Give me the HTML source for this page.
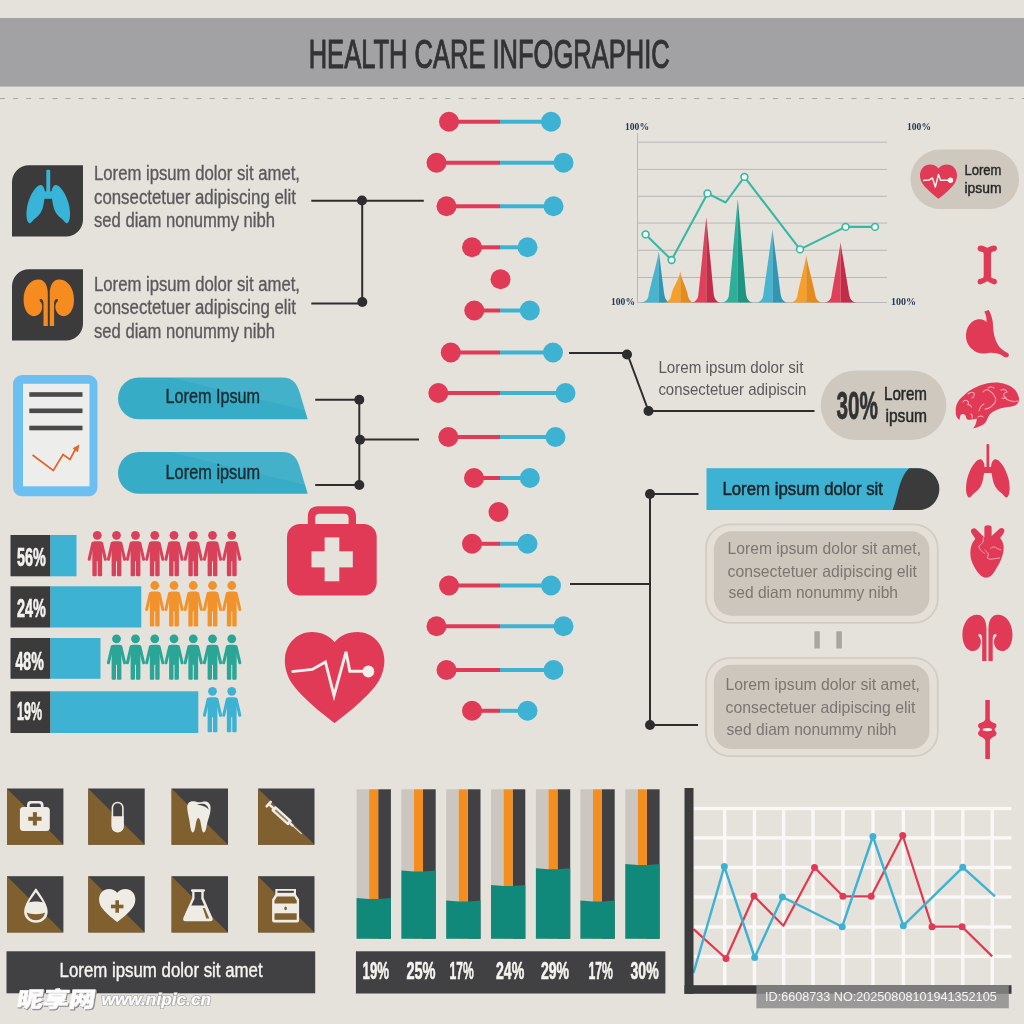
<!DOCTYPE html>
<html lang="en"><head><meta charset="utf-8"><title>Health Care Infographic</title>
<style>
html,body{margin:0;padding:0;background:#e5e2dc;}
body{width:1024px;height:1024px;overflow:hidden;}
svg{display:block;font-family:"Liberation Sans","Noto Sans CJK SC",sans-serif;}
</style></head><body>
<svg width="1024" height="1024" viewBox="0 0 1024 1024">
<rect width="1024" height="1024" fill="#e5e2dc"/>
<rect x="0" y="18" width="1024" height="68.6" fill="#a2a2a4"/>
<text x="308.7" y="67.7" font-size="41" fill="#333336" font-weight="normal" text-anchor="start" textLength="361" lengthAdjust="spacingAndGlyphs" stroke="#333336" stroke-width="1.1">HEALTH CARE INFOGRAPHIC</text>
<line x1="0" y1="98.5" x2="1024" y2="98.5" stroke="#a9a6a2" stroke-width="1" stroke-dasharray="5 8.1"/>
<path d="M29,165.3 H83 V219.5 A17,17 0 0 1 66,236.5 H12 V182.3 A17,17 0 0 1 29,165.3 Z" fill="#3c3b3c"/>
<path d="M29,269.3 H83 V323.5 A17,17 0 0 1 66,340.5 H12 V286.3 A17,17 0 0 1 29,269.3 Z" fill="#3c3b3c"/>
<g transform="translate(26,169.8) scale(1.0)" fill="#38b4d8"><rect x="20.3" y="0" width="3.9" height="28" rx="1.2"/><rect x="17" y="21.5" width="10.5" height="7.5"/><path d="M15,15.3 C11,14.5 4.5,24 1.8,34 C-0.5,43 0.3,52 3.2,53.5 C5,54 6.5,50.5 9.5,48.5 C13.5,45.5 16.5,41 17.5,35 C18.3,30 19,27 19,24 C19,19 17.5,16 15,15.3 Z"/><path d="M29.5,15.3 C33.5,14.5 40,24 42.7,34 C45,43 44.2,52 41.3,53.5 C39.5,54 38,50.5 35,48.5 C31,45.5 28,41 27,35 C26.2,30 25.5,27 25.5,24 C25.5,19 27,16 29.5,15.3 Z"/></g>
<g transform="translate(23.6,279.6) scale(1.0)" fill="#f68b1f"><path d="M14,0 C21,-0.5 24.2,6 24.2,14 L24.2,46.5 L19.9,46.5 L19.9,24 C19.9,21 18.8,19.3 17.2,19.3 C15.8,19.3 15.5,21 17,22.5 C19,24.5 19,29 17.5,32 C15.5,36 11,37.5 7.5,36 C2.5,34 0,27.5 0,20 C0,9 6,0.5 14,0 Z"/><path d="M36.4,0 C29.4,-0.5 26.2,6 26.2,14 L26.2,46.5 L30.5,46.5 L30.5,24 C30.5,21 31.6,19.3 33.2,19.3 C34.6,19.3 34.9,21 33.4,22.5 C31.4,24.5 31.4,29 32.9,32 C34.9,36 39.4,37.5 42.9,36 C47.9,34 50.4,27.5 50.4,20 C50.4,9 44.4,0.5 36.4,0 Z"/></g>
<text x="94" y="180" font-size="20" fill="#5a5a5c" font-weight="normal" text-anchor="start" textLength="206" lengthAdjust="spacingAndGlyphs" stroke="#5a5a5c" stroke-width="0.35">Lorem ipsum dolor sit amet,</text>
<text x="94" y="203.5" font-size="20" fill="#5a5a5c" font-weight="normal" text-anchor="start" textLength="202" lengthAdjust="spacingAndGlyphs" stroke="#5a5a5c" stroke-width="0.35">consectetuer adipiscing elit</text>
<text x="94" y="226.8" font-size="20" fill="#5a5a5c" font-weight="normal" text-anchor="start" textLength="181" lengthAdjust="spacingAndGlyphs" stroke="#5a5a5c" stroke-width="0.35">sed diam nonummy nibh</text>
<text x="94" y="290.5" font-size="20" fill="#5a5a5c" font-weight="normal" text-anchor="start" textLength="206" lengthAdjust="spacingAndGlyphs" stroke="#5a5a5c" stroke-width="0.35">Lorem ipsum dolor sit amet,</text>
<text x="94" y="314" font-size="20" fill="#5a5a5c" font-weight="normal" text-anchor="start" textLength="202" lengthAdjust="spacingAndGlyphs" stroke="#5a5a5c" stroke-width="0.35">consectetuer adipiscing elit</text>
<text x="94" y="337.5" font-size="20" fill="#5a5a5c" font-weight="normal" text-anchor="start" textLength="181" lengthAdjust="spacingAndGlyphs" stroke="#5a5a5c" stroke-width="0.35">sed diam nonummy nibh</text>
<line x1="311.3" y1="200.8" x2="423.8" y2="200.8" stroke="#2e2d2e" stroke-width="2"/>
<line x1="362.2" y1="200.5" x2="362.2" y2="303" stroke="#2e2d2e" stroke-width="2"/>
<line x1="311.3" y1="303.5" x2="362.2" y2="303.5" stroke="#2e2d2e" stroke-width="2"/>
<circle cx="362" cy="200.5" r="5" fill="#2e2d2e"/>
<circle cx="362.3" cy="302" r="5" fill="#2e2d2e"/>
<line x1="449" y1="121.8" x2="500" y2="121.8" stroke="#e03a57" stroke-width="4"/>
<line x1="500" y1="121.8" x2="551" y2="121.8" stroke="#3eb2d2" stroke-width="4"/>
<circle cx="449" cy="121.8" r="10" fill="#e03a57"/><circle cx="551" cy="121.8" r="10" fill="#3eb2d2"/>
<line x1="436.5" y1="162.8" x2="500" y2="162.8" stroke="#e03a57" stroke-width="4"/>
<line x1="500" y1="162.8" x2="563.5" y2="162.8" stroke="#3eb2d2" stroke-width="4"/>
<circle cx="436.5" cy="162.8" r="10" fill="#e03a57"/><circle cx="563.5" cy="162.8" r="10" fill="#3eb2d2"/>
<line x1="446.5" y1="206.3" x2="500" y2="206.3" stroke="#e03a57" stroke-width="4"/>
<line x1="500" y1="206.3" x2="553.5" y2="206.3" stroke="#3eb2d2" stroke-width="4"/>
<circle cx="446.5" cy="206.3" r="10" fill="#e03a57"/><circle cx="553.5" cy="206.3" r="10" fill="#3eb2d2"/>
<line x1="472" y1="247.3" x2="500" y2="247.3" stroke="#e03a57" stroke-width="4"/>
<line x1="500" y1="247.3" x2="527.5" y2="247.3" stroke="#3eb2d2" stroke-width="4"/>
<circle cx="472" cy="247.3" r="10" fill="#e03a57"/><circle cx="527.5" cy="247.3" r="10" fill="#3eb2d2"/>
<circle cx="500.5" cy="279.3" r="10" fill="#e03a57"/>
<line x1="474.3" y1="310.5" x2="500" y2="310.5" stroke="#e03a57" stroke-width="4"/>
<line x1="500" y1="310.5" x2="529.8" y2="310.5" stroke="#3eb2d2" stroke-width="4"/>
<circle cx="474.3" cy="310.5" r="10" fill="#e03a57"/><circle cx="529.8" cy="310.5" r="10" fill="#3eb2d2"/>
<line x1="450.8" y1="352.5" x2="500" y2="352.5" stroke="#e03a57" stroke-width="4"/>
<line x1="500" y1="352.5" x2="553" y2="352.5" stroke="#3eb2d2" stroke-width="4"/>
<circle cx="450.8" cy="352.5" r="10" fill="#e03a57"/><circle cx="553" cy="352.5" r="10" fill="#3eb2d2"/>
<line x1="438.3" y1="393" x2="500" y2="393" stroke="#e03a57" stroke-width="4"/>
<line x1="500" y1="393" x2="565.5" y2="393" stroke="#3eb2d2" stroke-width="4"/>
<circle cx="438.3" cy="393" r="10" fill="#e03a57"/><circle cx="565.5" cy="393" r="10" fill="#3eb2d2"/>
<line x1="448.3" y1="437" x2="500" y2="437" stroke="#e03a57" stroke-width="4"/>
<line x1="500" y1="437" x2="555.5" y2="437" stroke="#3eb2d2" stroke-width="4"/>
<circle cx="448.3" cy="437" r="10" fill="#e03a57"/><circle cx="555.5" cy="437" r="10" fill="#3eb2d2"/>
<line x1="474" y1="478" x2="500" y2="478" stroke="#e03a57" stroke-width="4"/>
<line x1="500" y1="478" x2="529.8" y2="478" stroke="#3eb2d2" stroke-width="4"/>
<circle cx="474" cy="478" r="10" fill="#e03a57"/><circle cx="529.8" cy="478" r="10" fill="#3eb2d2"/>
<circle cx="498.5" cy="512" r="10" fill="#e03a57"/>
<line x1="472" y1="543.8" x2="500" y2="543.8" stroke="#e03a57" stroke-width="4"/>
<line x1="500" y1="543.8" x2="527.5" y2="543.8" stroke="#3eb2d2" stroke-width="4"/>
<circle cx="472" cy="543.8" r="10" fill="#e03a57"/><circle cx="527.5" cy="543.8" r="10" fill="#3eb2d2"/>
<line x1="449" y1="585.5" x2="500" y2="585.5" stroke="#e03a57" stroke-width="4"/>
<line x1="500" y1="585.5" x2="551" y2="585.5" stroke="#3eb2d2" stroke-width="4"/>
<circle cx="449" cy="585.5" r="10" fill="#e03a57"/><circle cx="551" cy="585.5" r="10" fill="#3eb2d2"/>
<line x1="436.5" y1="626.3" x2="500" y2="626.3" stroke="#e03a57" stroke-width="4"/>
<line x1="500" y1="626.3" x2="563.5" y2="626.3" stroke="#3eb2d2" stroke-width="4"/>
<circle cx="436.5" cy="626.3" r="10" fill="#e03a57"/><circle cx="563.5" cy="626.3" r="10" fill="#3eb2d2"/>
<line x1="446.5" y1="670" x2="500" y2="670" stroke="#e03a57" stroke-width="4"/>
<line x1="500" y1="670" x2="553.5" y2="670" stroke="#3eb2d2" stroke-width="4"/>
<circle cx="446.5" cy="670" r="10" fill="#e03a57"/><circle cx="553.5" cy="670" r="10" fill="#3eb2d2"/>
<line x1="472" y1="710.8" x2="500" y2="710.8" stroke="#e03a57" stroke-width="4"/>
<line x1="500" y1="710.8" x2="527.5" y2="710.8" stroke="#3eb2d2" stroke-width="4"/>
<circle cx="472" cy="710.8" r="10" fill="#e03a57"/><circle cx="527.5" cy="710.8" r="10" fill="#3eb2d2"/>
<line x1="637.5" y1="142.2" x2="887" y2="142.2" stroke="#b9b8b8" stroke-width="1"/>
<line x1="637.5" y1="169.4" x2="887" y2="169.4" stroke="#b9b8b8" stroke-width="1"/>
<line x1="637.5" y1="196.3" x2="887" y2="196.3" stroke="#b9b8b8" stroke-width="1"/>
<line x1="637.5" y1="223.1" x2="887" y2="223.1" stroke="#b9b8b8" stroke-width="1"/>
<line x1="637.5" y1="250.3" x2="887" y2="250.3" stroke="#b9b8b8" stroke-width="1"/>
<line x1="637.5" y1="277.5" x2="887" y2="277.5" stroke="#b9b8b8" stroke-width="1"/>
<line x1="637.5" y1="302.5" x2="887" y2="302.5" stroke="#b9b8b8" stroke-width="1"/>
<line x1="637.5" y1="133" x2="637.5" y2="302.5" stroke="#b9b8b8" stroke-width="1"/>
<text x="625" y="129.7" font-size="9.5" fill="#1f3550" font-weight="bold" text-anchor="start" textLength="24" lengthAdjust="spacingAndGlyphs" font-family="Liberation Serif, serif">100%</text>
<text x="907" y="129.7" font-size="9.5" fill="#1f3550" font-weight="bold" text-anchor="start" textLength="24" lengthAdjust="spacingAndGlyphs" font-family="Liberation Serif, serif">100%</text>
<text x="611" y="304.7" font-size="9.5" fill="#1f3550" font-weight="bold" text-anchor="start" textLength="24" lengthAdjust="spacingAndGlyphs" font-family="Liberation Serif, serif">100%</text>
<text x="891" y="304.7" font-size="9.5" fill="#1f3550" font-weight="bold" text-anchor="start" textLength="25" lengthAdjust="spacingAndGlyphs" font-family="Liberation Serif, serif">100%</text>
<path d="M658.8,251.5 C657.8,259.5 649.608,288.5 648.608,295.5 C647.608,300.5 644.608,302.0 640.6,302.5 L658.8,302.5 Z" fill="#47b4d0"/>
<path d="M658.8,251.5 C659.8,259.5 663.512,288.5 664.512,295.5 C665.512,300.5 668.512,302.0 669,302.5 L658.8,302.5 Z" fill="#2f96b4"/>
<path d="M680.3,271.3 C679.3,279.3 672.172,288.5 671.172,295.5 C670.172,300.5 667.172,302.0 664,302.5 L680.3,302.5 Z" fill="#f6a02c"/>
<path d="M680.3,271.3 C681.3,279.3 686.8599999999999,288.5 687.8599999999999,295.5 C688.8599999999999,300.5 691.8599999999999,302.0 693.8,302.5 L680.3,302.5 Z" fill="#e58a1c"/>
<path d="M706.3,217.2 C705.3,225.2 699.292,288.5 698.292,295.5 C697.292,300.5 694.292,302.0 692,302.5 L706.3,302.5 Z" fill="#e0405a"/>
<path d="M706.3,217.2 C707.3,225.2 712.972,288.5 713.972,295.5 C714.972,300.5 717.972,302.0 720,302.5 L706.3,302.5 Z" fill="#c22c48"/>
<path d="M737.8,199.4 C736.8,207.4 729.896,288.5 728.896,295.5 C727.896,300.5 724.896,302.0 721.9,302.5 L737.8,302.5 Z" fill="#2fae9a"/>
<path d="M737.8,199.4 C738.8,207.4 745.312,288.5 746.312,295.5 C747.312,300.5 750.312,302.0 753,302.5 L737.8,302.5 Z" fill="#1f9482"/>
<path d="M772.5,229.7 C771.5,237.7 764.26,288.5 763.26,295.5 C762.26,300.5 759.26,302.0 756,302.5 L772.5,302.5 Z" fill="#47b4d0"/>
<path d="M772.5,229.7 C773.5,237.7 779.9,288.5 780.9,295.5 C781.9,300.5 784.9,302.0 787.5,302.5 L772.5,302.5 Z" fill="#2f96b4"/>
<path d="M806.3,255.3 C805.3,263.3 798.508,288.5 797.508,295.5 C796.508,300.5 793.508,302.0 790.6,302.5 L806.3,302.5 Z" fill="#f6a02c"/>
<path d="M806.3,255.3 C807.3,263.3 814.372,288.5 815.372,295.5 C816.372,300.5 819.372,302.0 822.5,302.5 L806.3,302.5 Z" fill="#e58a1c"/>
<path d="M840.6,242.2 C839.6,250.2 832.528,288.5 831.528,295.5 C830.528,300.5 827.528,302.0 824.4,302.5 L840.6,302.5 Z" fill="#e0405a"/>
<path d="M840.6,242.2 C841.6,250.2 848.3919999999999,288.5 849.3919999999999,295.5 C850.3919999999999,300.5 853.3919999999999,302.0 856.3,302.5 L840.6,302.5 Z" fill="#c22c48"/>
<polyline points="645.6,234.4 671.6,260 707.5,193.4 725.6,202.5 744.4,176.9 800,249.4 845.6,226.9 875,226.9" fill="none" stroke="#35b8a4" stroke-width="2.1" stroke-linejoin="round"/>
<circle cx="645.6" cy="234.4" r="3.4" fill="#f2f4f2" stroke="#35b8a4" stroke-width="1.6"/>
<circle cx="671.6" cy="260" r="3.4" fill="#f2f4f2" stroke="#35b8a4" stroke-width="1.6"/>
<circle cx="707.5" cy="193.4" r="3.4" fill="#f2f4f2" stroke="#35b8a4" stroke-width="1.6"/>
<circle cx="744.4" cy="176.9" r="3.4" fill="#f2f4f2" stroke="#35b8a4" stroke-width="1.6"/>
<circle cx="800" cy="249.4" r="3.4" fill="#f2f4f2" stroke="#35b8a4" stroke-width="1.6"/>
<circle cx="845.6" cy="226.9" r="3.4" fill="#f2f4f2" stroke="#35b8a4" stroke-width="1.6"/>
<circle cx="875" cy="226.9" r="3.4" fill="#f2f4f2" stroke="#35b8a4" stroke-width="1.6"/>
<rect x="910.5" y="149.5" width="108.5" height="59.5" rx="29.75" fill="#cec8be"/>
<path transform="translate(920,164.5) scale(0.37,0.3728260869565217)" d="M50,92 C45,88 18,68 6.5,51 C1.5,43 -0.5,34 0,27 C1,11 13,0 27,0 C37,0 45,4 50,10.5 C55,4 63,0 73,0 C87,0 99,11 100,27 C100.5,34 98.5,43 93.5,51 C82,68 55,88 50,92 Z" fill="#e03a57"/>
<polyline points="923,180.5 929,180 932.5,178 935.3,187 938.5,174.5 940.5,180.3 948,180.3" fill="none" stroke="#f3efe9" stroke-width="1.5" stroke-linejoin="round"/>
<circle cx="950.5" cy="180.3" r="2.7" fill="#f3efe9"/>
<text x="964.5" y="174.5" font-size="15.5" fill="#272728" font-weight="normal" text-anchor="start" textLength="37" lengthAdjust="spacingAndGlyphs" stroke="#272728" stroke-width="0.45">Lorem</text>
<text x="964.5" y="193" font-size="15.5" fill="#272728" font-weight="normal" text-anchor="start" textLength="37" lengthAdjust="spacingAndGlyphs" stroke="#272728" stroke-width="0.45">ipsum</text>
<line x1="569" y1="353" x2="627" y2="353" stroke="#2e2d2e" stroke-width="2"/>
<line x1="627" y1="353" x2="648.5" y2="411" stroke="#2e2d2e" stroke-width="2"/>
<line x1="648.5" y1="411" x2="814.5" y2="411" stroke="#2e2d2e" stroke-width="2"/>
<circle cx="627" cy="354.5" r="5" fill="#2e2d2e"/>
<circle cx="648.5" cy="411" r="5" fill="#2e2d2e"/>
<text x="658.4" y="373" font-size="17" fill="#5a5a5c" font-weight="normal" text-anchor="start" textLength="145" lengthAdjust="spacingAndGlyphs" >Lorem ipsum dolor sit</text>
<text x="658.4" y="395" font-size="17" fill="#5a5a5c" font-weight="normal" text-anchor="start" textLength="148" lengthAdjust="spacingAndGlyphs" >consectetuer adipiscin</text>
<rect x="820.8" y="370.4" width="125.5" height="69.6" rx="34.8" fill="#cec8be"/>
<text x="836.5" y="418.6" font-size="38.2" fill="#333334" font-weight="bold" text-anchor="start" textLength="41.5" lengthAdjust="spacingAndGlyphs" stroke="#333334" stroke-width="0.8">30%</text>
<text x="884" y="399.6" font-size="18.2" fill="#272728" font-weight="normal" text-anchor="start" textLength="43" lengthAdjust="spacingAndGlyphs" stroke="#272728" stroke-width="0.5">Lorem</text>
<text x="885.5" y="421.8" font-size="18.2" fill="#272728" font-weight="normal" text-anchor="start" textLength="41.5" lengthAdjust="spacingAndGlyphs" stroke="#272728" stroke-width="0.5">ipsum</text>
<rect x="706.5" y="468.2" width="215" height="41.8" fill="#3eb2d2"/>
<path d="M909.5,468.2 H918.5 A20.9,20.9 0 0 1 918.5,510 H892.5 C898,498 899,476 909.5,468.2 Z" fill="#3c3b3c"/>
<text x="722.4" y="495.3" font-size="18.8" fill="#1f2428" font-weight="normal" text-anchor="start" textLength="160.6" lengthAdjust="spacingAndGlyphs" stroke="#1f2428" stroke-width="0.55">Lorem ipsum dolor sit</text>
<line x1="650" y1="494" x2="698.5" y2="494" stroke="#2e2d2e" stroke-width="2"/>
<line x1="650" y1="494" x2="650" y2="725" stroke="#2e2d2e" stroke-width="2"/>
<line x1="650" y1="725" x2="698" y2="725" stroke="#2e2d2e" stroke-width="2"/>
<line x1="570" y1="584" x2="650" y2="584" stroke="#2e2d2e" stroke-width="2"/>
<circle cx="650" cy="494" r="5" fill="#2e2d2e"/>
<circle cx="650" cy="725" r="5" fill="#2e2d2e"/>
<rect x="706" y="524.4" width="231.8" height="98.4" rx="24" fill="#e4dfd7" stroke="#d2ccc3" stroke-width="1.8"/>
<rect x="713.8" y="531.3" width="215.6" height="84.4" rx="18" fill="#ccc6bd"/>
<rect x="706" y="657.8" width="231.8" height="98.4" rx="24" fill="#e4dfd7" stroke="#d2ccc3" stroke-width="1.8"/>
<rect x="713.8" y="664.6999999999999" width="215.6" height="84.4" rx="18" fill="#ccc6bd"/>
<text x="727.5" y="553.8" font-size="16.5" fill="#7a7672" font-weight="normal" text-anchor="start" textLength="193.5" lengthAdjust="spacingAndGlyphs" >Lorem ipsum dolor sit amet,</text>
<text x="727.5" y="576.6" font-size="16.5" fill="#7a7672" font-weight="normal" text-anchor="start" textLength="189.5" lengthAdjust="spacingAndGlyphs" >consectetuer adipiscing elit</text>
<text x="728.5" y="598.4" font-size="16.5" fill="#7a7672" font-weight="normal" text-anchor="start" textLength="169.5" lengthAdjust="spacingAndGlyphs" >sed diam nonummy nibh</text>
<text x="725.5" y="690" font-size="16.5" fill="#7a7672" font-weight="normal" text-anchor="start" textLength="194.5" lengthAdjust="spacingAndGlyphs" >Lorem ipsum dolor sit amet,</text>
<text x="725.5" y="712.5" font-size="16.5" fill="#7a7672" font-weight="normal" text-anchor="start" textLength="190" lengthAdjust="spacingAndGlyphs" >consectetuer adipiscing elit</text>
<text x="726.5" y="735" font-size="16.5" fill="#7a7672" font-weight="normal" text-anchor="start" textLength="170" lengthAdjust="spacingAndGlyphs" >sed diam nonummy nibh</text>
<rect x="814.4" y="631.3" width="5.4" height="17.2" fill="#a9a6a1"/><rect x="836.3" y="631.3" width="5.6" height="17.2" fill="#a9a6a1"/>
<path d="M983.7,254 C983.7,252 982,251.8 980,251.5 C977.5,251 976.8,248 978.5,246.3 C980.5,244.5 984,246 987.3,247.7 C990.5,246 994,244.5 996,246 C997.8,247.8 997,251 994.5,251.3 C992.5,251.7 991,252 991,254 L991,276 C991,278 992.5,278.3 994.5,278.7 C997,279 997.8,282.2 996,284 C994,285.5 990.5,283 987.3,281.3 C984,283 980.5,285.5 978.5,284 C976.8,282.2 977.5,279 980,278.7 C982,278.3 983.7,278 983.7,276 Z" fill="#e03a57"/>
<path d="M984.3,311.4 L988.8,310 C991,314 993,320 993,325 C993.2,332 994.5,339 998,345 C1000,348 1003,350.3 1008,353.3 C1009.5,354.5 1009,357 1007,357.3 C1005.5,357.5 1004.5,357.3 1003.5,356.5 C1001,354.5 999,353.8 996,353.2 C993,352.6 991,352.5 988,353 C982,354.5 976,353 972,349 C968,345.5 965.8,341 966,335 C966.2,329 969,324 973,321.3 C976,319.5 979,319 982,319.6 C984,320 985.5,321 986.5,322.3 C986.8,318 986,314.5 984.3,311.4 Z" fill="#e03a57"/>
<path d="M959.4,420.1 C956.5,418 955.5,415 955.8,412.1 C955.5,409 955.8,407 956.5,404.9 C958,401 960,398.5 963,396.2 C966,393 969.5,390.5 973.8,388.3 C978,386 982.5,384.2 987.6,383.2 C992,382.3 996.5,382.2 1000.6,382.9 C1004.5,383.5 1008.3,384.8 1011.4,386.8 C1014.5,388.8 1016.8,391.5 1017.9,394.8 C1018.8,397 1019.3,399 1019,400.6 C1018.3,403 1017,404.8 1015,405.6 C1012,406.8 1008.5,407 1004.9,407.4 C1001,408 997.5,409 994.8,410.7 C992.3,412 990.5,413.3 989.4,415 C988,417 987.3,419.3 986.1,421.5 C984.8,423.6 982.8,425 980.3,425.9 C978,427 975.5,428 973.1,428.4 C974.5,426.5 975.6,424.8 976,423 C976.5,421.5 976.8,420 976.7,418.6 C973.5,419.6 970,420.3 967.3,419.4 C966,418.3 966,416.5 965.5,415.4 C964.3,414.2 962.8,413.8 961.6,414.3 C960.6,415 960.3,415.8 960.1,416.5 C959.8,417.8 959.7,419 959.4,420.1 Z" fill="#e03a57"/>
<path d="M963,402 q2,-3 4.5,-1 q2,2 0,4 q3,-1 4,2 M968,394 q3,-3 6,-1 q1,3 -2,5 M983,392 q3,-4 7,-1 q3,2 5,6 q2,4 -2,8 q-4,4 -8,4 M984,404 q-4,2 -5,7 M988,388 q3,-2 6,0 M1001,390 q4,-2 6,2 q-4,1 -3,4 q2,4 7,5 q4,1 7,0 M1002,398 q3,1 4,-1 M971,414 q2,2 1,4 M978,417 q3,-2 5,0" fill="none" stroke="#f4a3ae" stroke-width="1.1" stroke-linecap="round"/>
<g transform="translate(965.6,444) scale(1.0)" fill="#e03a57"><rect x="20.9" y="0" width="2.7" height="28" rx="0.8"/><rect x="18" y="23" width="8.5" height="6"/><path d="M15,15.3 C11,14.5 4.5,24 1.8,34 C-0.5,43 0.3,52 3.2,53.5 C5,54 6.5,50.5 9.5,48.5 C13.5,45.5 16.5,41 17.5,35 C18.3,30 19,27 19,24 C19,19 17.5,16 15,15.3 Z"/><path d="M29.5,15.3 C33.5,14.5 40,24 42.7,34 C45,43 44.2,52 41.3,53.5 C39.5,54 38,50.5 35,48.5 C31,45.5 28,41 27,35 C26.2,30 25.5,27 25.5,24 C25.5,19 27,16 29.5,15.3 Z"/></g>
<path d="M984.4,527.5 Q984.4,525.2 988,525.2 Q991.6,525.2 991.6,527.5 L991.6,536 L999.5,528.7 Q1002,527.3 1004,529.3 Q1005.3,531.5 1003.5,533.5 L1000,538 C1003.5,541.5 1004.3,547 1003.3,552 C1002,559 998.5,565 996,569 C993,574.5 990,577.7 986,577.7 C980,577.7 975,569 972,562 C969.5,555.5 970,547 973,542 L975.3,538.7 L971.5,533 Q970,530.5 972,529 Q974.5,527.5 976.5,529.5 L984.4,537.5 Z" fill="#e03a57"/>
<path d="M983.5,538 L982.9,542.4 L978.8,546.1 L979.8,549.3 L984.8,553.6 M985,549.9 L988.5,553.9 L987.3,558 L990,559.3 L999.8,558 M990.4,548.6 Q993.5,545 997.3,548.6 L1001,549.9" fill="none" stroke="#f4a3ae" stroke-width="1" stroke-linecap="round" stroke-linejoin="round"/>
<g transform="translate(962.4,614.7) scale(0.994)" fill="#e03a57"><path d="M14,0 C21,-0.5 24.2,6 24.2,14 L24.2,46.5 L19.9,46.5 L19.9,24 C19.9,21 18.8,19.3 17.2,19.3 C15.8,19.3 15.5,21 17,22.5 C19,24.5 19,29 17.5,32 C15.5,36 11,37.5 7.5,36 C2.5,34 0,27.5 0,20 C0,9 6,0.5 14,0 Z"/><path d="M36.4,0 C29.4,-0.5 26.2,6 26.2,14 L26.2,46.5 L30.5,46.5 L30.5,24 C30.5,21 31.6,19.3 33.2,19.3 C34.6,19.3 34.9,21 33.4,22.5 C31.4,24.5 31.4,29 32.9,32 C34.9,36 39.4,37.5 42.9,36 C47.9,34 50.4,27.5 50.4,20 C50.4,9 44.4,0.5 36.4,0 Z"/></g>
<g fill="#e03a57"><path d="M985.3,700 H989.8 V719 C989.8,721.5 993,722.5 995,723.3 C997,724.3 996.8,727.5 995,728.3 L979.5,728.3 C977.8,727.5 977.5,724.3 979.5,723.3 C981.5,722.5 985.3,721.5 985.3,719 Z"/><path d="M979.5,730.8 L995,730.8 C997,731.8 997,735 995,736 C993,737 989.9,738.5 989.9,741 V758.9 H985.3 V741 C985.3,738.5 981.5,737 979.5,736 C977.6,735 977.6,731.8 979.5,730.8 Z"/><rect x="979.8" y="727" width="15" height="5"/></g><ellipse cx="987.4" cy="729.6" rx="4.8" ry="1.6" fill="#f6ebe8"/>
<rect x="13" y="375" width="84.5" height="121.3" rx="9" fill="#6cc0f1"/>
<rect x="23" y="383.8" width="66.5" height="102.5" fill="#ededec"/>
<rect x="29.3" y="392.2" width="53.2" height="4.6" fill="#4a4a4b"/>
<rect x="29.3" y="408.5" width="53.2" height="4.6" fill="#4a4a4b"/>
<rect x="29.3" y="425.7" width="53.2" height="4.6" fill="#4a4a4b"/>
<polyline points="32.5,455 53.3,470.5 63,454.5 70,459.5 75.5,449" fill="none" stroke="#e0672a" stroke-width="1.7"/>
<path d="M79.5,444.5 L77.8,452.3 L72.6,448.3 Z" fill="#e0672a"/>
<path d="M138.9,377.5 H282 C293,377.5 297,383.5 300,393.5 L307.7,419.3 H138.9 A20.900000000000006,20.900000000000006 0 0 1 138.9,377.5 Z" fill="#36acc6"/>
<path d="M138.9,452 H282 C293,452 297,458 300,468 L307.7,493.8 H138.9 A20.900000000000006,20.900000000000006 0 0 1 138.9,452 Z" fill="#36acc6"/>
<path d="M170,377.5 H282 C293,377.5 297,383.5 300,393.5 L305.5,410.5 Z" fill="#ffffff" fill-opacity="0.07"/>
<path d="M170,452 H282 C293,452 297,458 300,468 L305.5,485 Z" fill="#ffffff" fill-opacity="0.07"/>
<text x="165.5" y="403" font-size="19.6" fill="#1f2c33" font-weight="normal" text-anchor="start" textLength="94.5" lengthAdjust="spacingAndGlyphs" stroke="#1f2c33" stroke-width="0.45">Lorem Ipsum</text>
<text x="165.5" y="479.3" font-size="19.6" fill="#1f2c33" font-weight="normal" text-anchor="start" textLength="94.5" lengthAdjust="spacingAndGlyphs" stroke="#1f2c33" stroke-width="0.45">Lorem ipsum</text>
<line x1="315.2" y1="399.8" x2="359" y2="399.8" stroke="#2e2d2e" stroke-width="2"/>
<line x1="315.2" y1="485" x2="359" y2="485" stroke="#2e2d2e" stroke-width="2"/>
<line x1="359.3" y1="399.8" x2="359.3" y2="485" stroke="#2e2d2e" stroke-width="2"/>
<line x1="359" y1="439.5" x2="419" y2="439.5" stroke="#2e2d2e" stroke-width="2"/>
<circle cx="359.3" cy="399.8" r="5" fill="#2e2d2e"/>
<circle cx="360" cy="439.8" r="5" fill="#2e2d2e"/>
<circle cx="359.3" cy="485" r="5" fill="#2e2d2e"/>
<rect x="10.5" y="535" width="40" height="41.299999999999955" fill="#3c3b3c"/>
<rect x="50.5" y="535" width="26.0" height="41.299999999999955" fill="#3eb2d2"/>
<text x="17" y="566.3" font-size="25.5" fill="#f4f2ee" font-weight="bold" text-anchor="start" textLength="28.8" lengthAdjust="spacingAndGlyphs" stroke="#f4f2ee" stroke-width="0.7">56%</text>
<rect x="10.5" y="586.3" width="40" height="41.200000000000045" fill="#3c3b3c"/>
<rect x="50.5" y="586.3" width="90.80000000000001" height="41.200000000000045" fill="#3eb2d2"/>
<text x="17" y="617" font-size="25.5" fill="#f4f2ee" font-weight="bold" text-anchor="start" textLength="28.8" lengthAdjust="spacingAndGlyphs" stroke="#f4f2ee" stroke-width="0.7">24%</text>
<rect x="10.5" y="638" width="40" height="40.799999999999955" fill="#3c3b3c"/>
<rect x="50.5" y="638" width="50.0" height="40.799999999999955" fill="#3eb2d2"/>
<text x="15.5" y="669.5" font-size="25.5" fill="#f4f2ee" font-weight="bold" text-anchor="start" textLength="28.3" lengthAdjust="spacingAndGlyphs" stroke="#f4f2ee" stroke-width="0.7">48%</text>
<rect x="10.5" y="691.3" width="40" height="41.700000000000045" fill="#3c3b3c"/>
<rect x="50.5" y="691.3" width="147.8" height="41.700000000000045" fill="#3eb2d2"/>
<text x="17" y="719.5" font-size="25.5" fill="#f4f2ee" font-weight="bold" text-anchor="start" textLength="25" lengthAdjust="spacingAndGlyphs" stroke="#f4f2ee" stroke-width="0.7">19%</text>
<g transform="translate(97.25,535.3)" fill="#d9415b" stroke="#d9415b"><circle r="4.4" stroke="none"/><path stroke="none" d="M-4.9,8 Q-4.9,6 -2.9,6 H2.9 Q4.9,6 4.9,8 V40 Q4.9,41 3.9,41 H1.4 Q0.5,41 0.5,40 V26 H-0.5 V40 Q-0.5,41 -1.4,41 H-3.9 Q-4.9,41 -4.9,40 Z"/><line x1="-4.4" y1="8" x2="-8.1" y2="24" stroke-width="3" stroke-linecap="round"/><line x1="4.4" y1="8" x2="8.1" y2="24" stroke-width="3" stroke-linecap="round"/></g>
<g transform="translate(116.5,535.3)" fill="#d9415b" stroke="#d9415b"><circle r="4.4" stroke="none"/><path stroke="none" d="M-4.9,8 Q-4.9,6 -2.9,6 H2.9 Q4.9,6 4.9,8 V40 Q4.9,41 3.9,41 H1.4 Q0.5,41 0.5,40 V26 H-0.5 V40 Q-0.5,41 -1.4,41 H-3.9 Q-4.9,41 -4.9,40 Z"/><line x1="-4.4" y1="8" x2="-8.1" y2="24" stroke-width="3" stroke-linecap="round"/><line x1="4.4" y1="8" x2="8.1" y2="24" stroke-width="3" stroke-linecap="round"/></g>
<g transform="translate(135.5,535.3)" fill="#d9415b" stroke="#d9415b"><circle r="4.4" stroke="none"/><path stroke="none" d="M-4.9,8 Q-4.9,6 -2.9,6 H2.9 Q4.9,6 4.9,8 V40 Q4.9,41 3.9,41 H1.4 Q0.5,41 0.5,40 V26 H-0.5 V40 Q-0.5,41 -1.4,41 H-3.9 Q-4.9,41 -4.9,40 Z"/><line x1="-4.4" y1="8" x2="-8.1" y2="24" stroke-width="3" stroke-linecap="round"/><line x1="4.4" y1="8" x2="8.1" y2="24" stroke-width="3" stroke-linecap="round"/></g>
<g transform="translate(154.75,535.3)" fill="#d9415b" stroke="#d9415b"><circle r="4.4" stroke="none"/><path stroke="none" d="M-4.9,8 Q-4.9,6 -2.9,6 H2.9 Q4.9,6 4.9,8 V40 Q4.9,41 3.9,41 H1.4 Q0.5,41 0.5,40 V26 H-0.5 V40 Q-0.5,41 -1.4,41 H-3.9 Q-4.9,41 -4.9,40 Z"/><line x1="-4.4" y1="8" x2="-8.1" y2="24" stroke-width="3" stroke-linecap="round"/><line x1="4.4" y1="8" x2="8.1" y2="24" stroke-width="3" stroke-linecap="round"/></g>
<g transform="translate(174,535.3)" fill="#d9415b" stroke="#d9415b"><circle r="4.4" stroke="none"/><path stroke="none" d="M-4.9,8 Q-4.9,6 -2.9,6 H2.9 Q4.9,6 4.9,8 V40 Q4.9,41 3.9,41 H1.4 Q0.5,41 0.5,40 V26 H-0.5 V40 Q-0.5,41 -1.4,41 H-3.9 Q-4.9,41 -4.9,40 Z"/><line x1="-4.4" y1="8" x2="-8.1" y2="24" stroke-width="3" stroke-linecap="round"/><line x1="4.4" y1="8" x2="8.1" y2="24" stroke-width="3" stroke-linecap="round"/></g>
<g transform="translate(193.25,535.3)" fill="#d9415b" stroke="#d9415b"><circle r="4.4" stroke="none"/><path stroke="none" d="M-4.9,8 Q-4.9,6 -2.9,6 H2.9 Q4.9,6 4.9,8 V40 Q4.9,41 3.9,41 H1.4 Q0.5,41 0.5,40 V26 H-0.5 V40 Q-0.5,41 -1.4,41 H-3.9 Q-4.9,41 -4.9,40 Z"/><line x1="-4.4" y1="8" x2="-8.1" y2="24" stroke-width="3" stroke-linecap="round"/><line x1="4.4" y1="8" x2="8.1" y2="24" stroke-width="3" stroke-linecap="round"/></g>
<g transform="translate(212.5,535.3)" fill="#d9415b" stroke="#d9415b"><circle r="4.4" stroke="none"/><path stroke="none" d="M-4.9,8 Q-4.9,6 -2.9,6 H2.9 Q4.9,6 4.9,8 V40 Q4.9,41 3.9,41 H1.4 Q0.5,41 0.5,40 V26 H-0.5 V40 Q-0.5,41 -1.4,41 H-3.9 Q-4.9,41 -4.9,40 Z"/><line x1="-4.4" y1="8" x2="-8.1" y2="24" stroke-width="3" stroke-linecap="round"/><line x1="4.4" y1="8" x2="8.1" y2="24" stroke-width="3" stroke-linecap="round"/></g>
<g transform="translate(231.75,535.3)" fill="#d9415b" stroke="#d9415b"><circle r="4.4" stroke="none"/><path stroke="none" d="M-4.9,8 Q-4.9,6 -2.9,6 H2.9 Q4.9,6 4.9,8 V40 Q4.9,41 3.9,41 H1.4 Q0.5,41 0.5,40 V26 H-0.5 V40 Q-0.5,41 -1.4,41 H-3.9 Q-4.9,41 -4.9,40 Z"/><line x1="-4.4" y1="8" x2="-8.1" y2="24" stroke-width="3" stroke-linecap="round"/><line x1="4.4" y1="8" x2="8.1" y2="24" stroke-width="3" stroke-linecap="round"/></g>
<g transform="translate(154.75,585.5)" fill="#f2922a" stroke="#f2922a"><circle r="4.4" stroke="none"/><path stroke="none" d="M-4.9,8 Q-4.9,6 -2.9,6 H2.9 Q4.9,6 4.9,8 V40 Q4.9,41 3.9,41 H1.4 Q0.5,41 0.5,40 V26 H-0.5 V40 Q-0.5,41 -1.4,41 H-3.9 Q-4.9,41 -4.9,40 Z"/><line x1="-4.4" y1="8" x2="-8.1" y2="24" stroke-width="3" stroke-linecap="round"/><line x1="4.4" y1="8" x2="8.1" y2="24" stroke-width="3" stroke-linecap="round"/></g>
<g transform="translate(174,585.5)" fill="#f2922a" stroke="#f2922a"><circle r="4.4" stroke="none"/><path stroke="none" d="M-4.9,8 Q-4.9,6 -2.9,6 H2.9 Q4.9,6 4.9,8 V40 Q4.9,41 3.9,41 H1.4 Q0.5,41 0.5,40 V26 H-0.5 V40 Q-0.5,41 -1.4,41 H-3.9 Q-4.9,41 -4.9,40 Z"/><line x1="-4.4" y1="8" x2="-8.1" y2="24" stroke-width="3" stroke-linecap="round"/><line x1="4.4" y1="8" x2="8.1" y2="24" stroke-width="3" stroke-linecap="round"/></g>
<g transform="translate(193.25,585.5)" fill="#f2922a" stroke="#f2922a"><circle r="4.4" stroke="none"/><path stroke="none" d="M-4.9,8 Q-4.9,6 -2.9,6 H2.9 Q4.9,6 4.9,8 V40 Q4.9,41 3.9,41 H1.4 Q0.5,41 0.5,40 V26 H-0.5 V40 Q-0.5,41 -1.4,41 H-3.9 Q-4.9,41 -4.9,40 Z"/><line x1="-4.4" y1="8" x2="-8.1" y2="24" stroke-width="3" stroke-linecap="round"/><line x1="4.4" y1="8" x2="8.1" y2="24" stroke-width="3" stroke-linecap="round"/></g>
<g transform="translate(212.5,585.5)" fill="#f2922a" stroke="#f2922a"><circle r="4.4" stroke="none"/><path stroke="none" d="M-4.9,8 Q-4.9,6 -2.9,6 H2.9 Q4.9,6 4.9,8 V40 Q4.9,41 3.9,41 H1.4 Q0.5,41 0.5,40 V26 H-0.5 V40 Q-0.5,41 -1.4,41 H-3.9 Q-4.9,41 -4.9,40 Z"/><line x1="-4.4" y1="8" x2="-8.1" y2="24" stroke-width="3" stroke-linecap="round"/><line x1="4.4" y1="8" x2="8.1" y2="24" stroke-width="3" stroke-linecap="round"/></g>
<g transform="translate(231.75,585.5)" fill="#f2922a" stroke="#f2922a"><circle r="4.4" stroke="none"/><path stroke="none" d="M-4.9,8 Q-4.9,6 -2.9,6 H2.9 Q4.9,6 4.9,8 V40 Q4.9,41 3.9,41 H1.4 Q0.5,41 0.5,40 V26 H-0.5 V40 Q-0.5,41 -1.4,41 H-3.9 Q-4.9,41 -4.9,40 Z"/><line x1="-4.4" y1="8" x2="-8.1" y2="24" stroke-width="3" stroke-linecap="round"/><line x1="4.4" y1="8" x2="8.1" y2="24" stroke-width="3" stroke-linecap="round"/></g>
<g transform="translate(116.5,638.8)" fill="#2aa596" stroke="#2aa596"><circle r="4.4" stroke="none"/><path stroke="none" d="M-4.9,8 Q-4.9,6 -2.9,6 H2.9 Q4.9,6 4.9,8 V40 Q4.9,41 3.9,41 H1.4 Q0.5,41 0.5,40 V26 H-0.5 V40 Q-0.5,41 -1.4,41 H-3.9 Q-4.9,41 -4.9,40 Z"/><line x1="-4.4" y1="8" x2="-8.1" y2="24" stroke-width="3" stroke-linecap="round"/><line x1="4.4" y1="8" x2="8.1" y2="24" stroke-width="3" stroke-linecap="round"/></g>
<g transform="translate(135.5,638.8)" fill="#2aa596" stroke="#2aa596"><circle r="4.4" stroke="none"/><path stroke="none" d="M-4.9,8 Q-4.9,6 -2.9,6 H2.9 Q4.9,6 4.9,8 V40 Q4.9,41 3.9,41 H1.4 Q0.5,41 0.5,40 V26 H-0.5 V40 Q-0.5,41 -1.4,41 H-3.9 Q-4.9,41 -4.9,40 Z"/><line x1="-4.4" y1="8" x2="-8.1" y2="24" stroke-width="3" stroke-linecap="round"/><line x1="4.4" y1="8" x2="8.1" y2="24" stroke-width="3" stroke-linecap="round"/></g>
<g transform="translate(154.75,638.8)" fill="#2aa596" stroke="#2aa596"><circle r="4.4" stroke="none"/><path stroke="none" d="M-4.9,8 Q-4.9,6 -2.9,6 H2.9 Q4.9,6 4.9,8 V40 Q4.9,41 3.9,41 H1.4 Q0.5,41 0.5,40 V26 H-0.5 V40 Q-0.5,41 -1.4,41 H-3.9 Q-4.9,41 -4.9,40 Z"/><line x1="-4.4" y1="8" x2="-8.1" y2="24" stroke-width="3" stroke-linecap="round"/><line x1="4.4" y1="8" x2="8.1" y2="24" stroke-width="3" stroke-linecap="round"/></g>
<g transform="translate(174,638.8)" fill="#2aa596" stroke="#2aa596"><circle r="4.4" stroke="none"/><path stroke="none" d="M-4.9,8 Q-4.9,6 -2.9,6 H2.9 Q4.9,6 4.9,8 V40 Q4.9,41 3.9,41 H1.4 Q0.5,41 0.5,40 V26 H-0.5 V40 Q-0.5,41 -1.4,41 H-3.9 Q-4.9,41 -4.9,40 Z"/><line x1="-4.4" y1="8" x2="-8.1" y2="24" stroke-width="3" stroke-linecap="round"/><line x1="4.4" y1="8" x2="8.1" y2="24" stroke-width="3" stroke-linecap="round"/></g>
<g transform="translate(193.25,638.8)" fill="#2aa596" stroke="#2aa596"><circle r="4.4" stroke="none"/><path stroke="none" d="M-4.9,8 Q-4.9,6 -2.9,6 H2.9 Q4.9,6 4.9,8 V40 Q4.9,41 3.9,41 H1.4 Q0.5,41 0.5,40 V26 H-0.5 V40 Q-0.5,41 -1.4,41 H-3.9 Q-4.9,41 -4.9,40 Z"/><line x1="-4.4" y1="8" x2="-8.1" y2="24" stroke-width="3" stroke-linecap="round"/><line x1="4.4" y1="8" x2="8.1" y2="24" stroke-width="3" stroke-linecap="round"/></g>
<g transform="translate(212.5,638.8)" fill="#2aa596" stroke="#2aa596"><circle r="4.4" stroke="none"/><path stroke="none" d="M-4.9,8 Q-4.9,6 -2.9,6 H2.9 Q4.9,6 4.9,8 V40 Q4.9,41 3.9,41 H1.4 Q0.5,41 0.5,40 V26 H-0.5 V40 Q-0.5,41 -1.4,41 H-3.9 Q-4.9,41 -4.9,40 Z"/><line x1="-4.4" y1="8" x2="-8.1" y2="24" stroke-width="3" stroke-linecap="round"/><line x1="4.4" y1="8" x2="8.1" y2="24" stroke-width="3" stroke-linecap="round"/></g>
<g transform="translate(231.75,638.8)" fill="#2aa596" stroke="#2aa596"><circle r="4.4" stroke="none"/><path stroke="none" d="M-4.9,8 Q-4.9,6 -2.9,6 H2.9 Q4.9,6 4.9,8 V40 Q4.9,41 3.9,41 H1.4 Q0.5,41 0.5,40 V26 H-0.5 V40 Q-0.5,41 -1.4,41 H-3.9 Q-4.9,41 -4.9,40 Z"/><line x1="-4.4" y1="8" x2="-8.1" y2="24" stroke-width="3" stroke-linecap="round"/><line x1="4.4" y1="8" x2="8.1" y2="24" stroke-width="3" stroke-linecap="round"/></g>
<g transform="translate(212.5,691.3)" fill="#3eb2d2" stroke="#3eb2d2"><circle r="4.4" stroke="none"/><path stroke="none" d="M-4.9,8 Q-4.9,6 -2.9,6 H2.9 Q4.9,6 4.9,8 V40 Q4.9,41 3.9,41 H1.4 Q0.5,41 0.5,40 V26 H-0.5 V40 Q-0.5,41 -1.4,41 H-3.9 Q-4.9,41 -4.9,40 Z"/><line x1="-4.4" y1="8" x2="-8.1" y2="24" stroke-width="3" stroke-linecap="round"/><line x1="4.4" y1="8" x2="8.1" y2="24" stroke-width="3" stroke-linecap="round"/></g>
<g transform="translate(231.75,691.3)" fill="#3eb2d2" stroke="#3eb2d2"><circle r="4.4" stroke="none"/><path stroke="none" d="M-4.9,8 Q-4.9,6 -2.9,6 H2.9 Q4.9,6 4.9,8 V40 Q4.9,41 3.9,41 H1.4 Q0.5,41 0.5,40 V26 H-0.5 V40 Q-0.5,41 -1.4,41 H-3.9 Q-4.9,41 -4.9,40 Z"/><line x1="-4.4" y1="8" x2="-8.1" y2="24" stroke-width="3" stroke-linecap="round"/><line x1="4.4" y1="8" x2="8.1" y2="24" stroke-width="3" stroke-linecap="round"/></g>
<path d="M307.8,530 V517 Q307.8,506.3 318.5,506.3 H345.3 Q356,506.3 356,517 V530 H348.6 V518 Q348.6,513.8 344.4,513.8 H319.4 Q315.2,513.8 315.2,518 V530 Z" fill="#e03a57"/>
<rect x="287" y="523.9" width="89.7" height="71.6" rx="13" fill="#e03a57"/>
<rect x="311.5" y="551.3" width="41.3" height="16.1" fill="#e5e2dc"/><rect x="324.6" y="537.4" width="14.7" height="43.9" fill="#e5e2dc"/>
<path transform="translate(284.9,631.9) scale(0.9940000000000001,0.9902173913043477)" d="M50,92 C45,88 18,68 6.5,51 C1.5,43 -0.5,34 0,27 C1,11 13,0 27,0 C37,0 45,4 50,10.5 C55,4 63,0 73,0 C87,0 99,11 100,27 C100.5,34 98.5,43 93.5,51 C82,68 55,88 50,92 Z" fill="#e03a57"/>
<polyline points="291.6,671.6 312.3,669.4 325.4,661.9 334,695.6 346,651.8 349.8,671.3 363,671.3" fill="none" stroke="#f3efe9" stroke-width="2.9" stroke-linejoin="miter"/>
<circle cx="368.4" cy="671.5" r="5.9" fill="#f3efe9"/>
<rect x="7" y="788.5" width="56.4" height="56.2" fill="#414042"/>
<path d="M7,788.5 L63.4,844.7 H7 Z" fill="#80602f"/>
<rect x="88.3" y="788.5" width="56.4" height="56.2" fill="#414042"/>
<path d="M88.3,788.5 L144.7,844.7 H88.3 Z" fill="#80602f"/>
<rect x="171.6" y="788.5" width="56.4" height="56.2" fill="#414042"/>
<path d="M171.6,788.5 L228.0,844.7 H171.6 Z" fill="#80602f"/>
<rect x="258.1" y="788.5" width="56.4" height="56.2" fill="#414042"/>
<path d="M258.1,788.5 L314.5,844.7 H258.1 Z" fill="#80602f"/>
<rect x="7" y="876.2" width="56.4" height="56.2" fill="#414042"/>
<path d="M7,876.2 L63.4,932.4000000000001 H7 Z" fill="#80602f"/>
<rect x="88.3" y="876.2" width="56.4" height="56.2" fill="#414042"/>
<path d="M88.3,876.2 L144.7,932.4000000000001 H88.3 Z" fill="#80602f"/>
<rect x="171.6" y="876.2" width="56.4" height="56.2" fill="#414042"/>
<path d="M171.6,876.2 L228.0,932.4000000000001 H171.6 Z" fill="#80602f"/>
<rect x="258.1" y="876.2" width="56.4" height="56.2" fill="#414042"/>
<path d="M258.1,876.2 L314.5,932.4000000000001 H258.1 Z" fill="#80602f"/>
<path d="M27,809 V805 Q27,801 31,801 H39.5 Q43.5,801 43.5,805 V809 H40.9 V805.5 Q40.9,803.6 39,803.6 H31.5 Q29.6,803.6 29.6,805.5 V809 Z" fill="#efece6"/>
<rect x="19.9" y="807" width="29.9" height="24.1" rx="3.5" fill="#efece6"/>
<rect x="28.25" y="816.8" width="13.3" height="4" fill="#80602f"/><rect x="32.9" y="812.15" width="4" height="13.3" fill="#80602f"/>
<rect x="112.4" y="802.5" width="10.5" height="29.2" rx="5.25" fill="#414042" stroke="#efece6" stroke-width="1.6"/>
<path d="M111.6,816.3 H123.7 V826.3 A6.05,6.05 0 0 1 111.6,826.3 Z" fill="#efece6"/>
<path d="M187.3,809 C186.5,803 190,800.8 194,801.3 C197,801.7 199,803 202,802 C206,800.7 210.5,802 210.6,808 C210.7,814 208,819 207,824 C206.3,828 205.5,832.4 203.8,832.4 C202,832.4 201.5,827 200.5,822 C200,819.5 199,818 198.3,818 C197.5,818 196.5,820 196,823 C195.2,828 194.5,832.4 192.8,832.4 C191,832.4 190.3,827 189.8,823 C189.2,818 187.8,814 187.3,809 Z" fill="#efece6"/>
<path d="M197,804.6 C202,802.8 207.6,803 208.8,810 C206.5,806.5 202,805.6 197,804.6 Z" fill="#414042"/>
<g transform="translate(268.6,804) rotate(42)" fill="#efece6"><rect x="-1.2" y="-4.2" width="2.6" height="8.4" rx="1.2"/><rect x="1" y="-1.2" width="6" height="2.4"/><rect x="6" y="-3.2" width="23" height="6.4" rx="1.4"/><rect x="9" y="-0.9" width="17" height="1.8" fill="#80602f" fill-opacity="0.75"/><rect x="29" y="-1.2" width="4" height="2.4"/><rect x="32" y="-0.5" width="12.5" height="1"/></g>
<path d="M35.9,889.5 C32,896 25,904 25,911.5 C25,917.5 29.8,921.9 35.9,921.9 C42,921.9 46.8,917.5 46.8,911.5 C46.8,904 39.8,896 35.9,889.5 Z" fill="#efece6" stroke="#efece6" stroke-width="1.8" stroke-linejoin="round"/>
<path d="M35.9,892.3 C33.8,895.5 31,899 29,902.6 C33,901.2 38.8,901.2 42.8,902.6 C40.8,899 38,895.5 35.9,892.3 Z" fill="#414042"/>
<path d="M26.8,912.5 C31,914.8 40.8,914.8 45,912.5 C44.5,917 40.8,920.2 35.9,920.2 C31,920.2 27.3,917 26.8,912.5 Z" fill="#80602f"/>
<path transform="translate(99.1,888.9) scale(0.36200000000000004,0.36086956521739133)" d="M50,92 C45,88 18,68 6.5,51 C1.5,43 -0.5,34 0,27 C1,11 13,0 27,0 C37,0 45,4 50,10.5 C55,4 63,0 73,0 C87,0 99,11 100,27 C100.5,34 98.5,43 93.5,51 C82,68 55,88 50,92 Z" fill="#efece6"/>
<rect x="110.95" y="904.7" width="12.5" height="3.6" fill="#80602f"/><rect x="115.4" y="900.25" width="3.6" height="12.5" fill="#80602f"/>
<path d="M192.5,889.2 H203.5 Q205,889.2 205,890.5 Q205,891.8 203.7,891.8 V898 L212.3,917.5 Q213.8,921.3 210,921.3 H185.8 Q182,921.3 183.5,917.5 L192.2,898 V891.8 Q190.9,891.8 190.9,890.5 Q190.9,889.2 192.5,889.2 Z" fill="#efece6"/>
<path d="M194.5,892 H201.3 V898.8 L204.3,905.5 H191.3 L194.5,898.8 Z" fill="#414042"/>
<path d="M204.8,908 L209.3,918.5 H206.3 L202.8,908 Z" fill="#80602f"/>
<path d="M275.3,888.9 H296 V894.5 L299.1,899.5 V920.4 Q299.1,922.4 297.1,922.4 H274.1 Q272.1,922.4 272.1,920.4 V899.5 L275.3,894.5 Z" fill="#efece6"/>
<rect x="277.5" y="890.8" width="16.3" height="2" fill="#414042"/>
<path d="M277,896.5 H294.3 L296.7,900.5 V903.5 H274.5 V900.5 Z" fill="#80602f"/>
<rect x="274.5" y="913.3" width="22.2" height="6.5" fill="#80602f"/>
<ellipse cx="285.6" cy="908.3" rx="1.3" ry="1.9" fill="#80602f"/>
<rect x="6.5" y="951.3" width="308.7" height="42" fill="#414042"/>
<text x="59.6" y="977" font-size="19.5" fill="#f6f4f0" font-weight="normal" text-anchor="start" textLength="203" lengthAdjust="spacingAndGlyphs" stroke="#f6f4f0" stroke-width="0.4">Lorem ipsum dolor sit amet</text>
<g transform="translate(16,1006.6) skewX(-9)">
<text x="1" y="0.9" font-size="21.5" fill="#8f8f8f" font-weight="900" text-anchor="start" textLength="78.5" lengthAdjust="spacingAndGlyphs" font-family="Liberation Sans, Noto Sans CJK SC, sans-serif" stroke="#8f8f8f" stroke-width="1.0">昵享网</text>
<text x="0" y="0" font-size="21.5" fill="#fcfcfc" font-weight="900" text-anchor="start" textLength="78.5" lengthAdjust="spacingAndGlyphs" font-family="Liberation Sans, Noto Sans CJK SC, sans-serif" stroke="#fcfcfc" stroke-width="0.5">昵享网</text>
</g>
<g font-style="italic">
<text x="101.5" y="1004.6" font-size="16" fill="#9a9a9a" font-weight="bold" text-anchor="start" textLength="109.5" lengthAdjust="spacingAndGlyphs" stroke="#9a9a9a" stroke-width="1.6">www.nipic.cn</text>
<text x="101.5" y="1004.6" font-size="16" fill="#fcfcfc" font-weight="bold" text-anchor="start" textLength="109.5" lengthAdjust="spacingAndGlyphs" stroke="#fcfcfc" stroke-width="0.3">www.nipic.cn</text>
</g>
<rect x="356.6" y="789.3" width="12.6" height="149.4" fill="#cbc6bf"/>
<rect x="378.20000000000005" y="789.3" width="12.7" height="149.4" fill="#414042"/>
<rect x="369.20000000000005" y="789.3" width="9" height="149.4" fill="#f38e1f"/>
<path d="M356.6,897.9 L369.20000000000005,898.9 L378.20000000000005,898.9 L390.90000000000003,897.9 V938.7 H356.6 Z" fill="#10897b"/>
<rect x="401.4" y="789.3" width="12.6" height="149.4" fill="#cbc6bf"/>
<rect x="423.0" y="789.3" width="12.7" height="149.4" fill="#414042"/>
<rect x="414.0" y="789.3" width="9" height="149.4" fill="#f38e1f"/>
<path d="M401.4,870.6 L414.0,871.6 L423.0,871.6 L435.7,870.6 V938.7 H401.4 Z" fill="#10897b"/>
<rect x="446.2" y="789.3" width="12.6" height="149.4" fill="#cbc6bf"/>
<rect x="467.8" y="789.3" width="12.7" height="149.4" fill="#414042"/>
<rect x="458.8" y="789.3" width="9" height="149.4" fill="#f38e1f"/>
<path d="M446.2,900.5 L458.8,901.5 L467.8,901.5 L480.5,900.5 V938.7 H446.2 Z" fill="#10897b"/>
<rect x="491" y="789.3" width="12.6" height="149.4" fill="#cbc6bf"/>
<rect x="512.6" y="789.3" width="12.7" height="149.4" fill="#414042"/>
<rect x="503.6" y="789.3" width="9" height="149.4" fill="#f38e1f"/>
<path d="M491,884.9 L503.6,885.9 L512.6,885.9 L525.3,884.9 V938.7 H491 Z" fill="#10897b"/>
<rect x="535.9" y="789.3" width="12.6" height="149.4" fill="#cbc6bf"/>
<rect x="557.5" y="789.3" width="12.7" height="149.4" fill="#414042"/>
<rect x="548.5" y="789.3" width="9" height="149.4" fill="#f38e1f"/>
<path d="M535.9,868.3 L548.5,869.3 L557.5,869.3 L570.1999999999999,868.3 V938.7 H535.9 Z" fill="#10897b"/>
<rect x="580.4" y="789.3" width="12.6" height="149.4" fill="#cbc6bf"/>
<rect x="602.0" y="789.3" width="12.7" height="149.4" fill="#414042"/>
<rect x="593.0" y="789.3" width="9" height="149.4" fill="#f38e1f"/>
<path d="M580.4,900.5 L593.0,901.5 L602.0,901.5 L614.6999999999999,900.5 V938.7 H580.4 Z" fill="#10897b"/>
<rect x="625.3" y="789.3" width="12.6" height="149.4" fill="#cbc6bf"/>
<rect x="646.9" y="789.3" width="12.7" height="149.4" fill="#414042"/>
<rect x="637.9" y="789.3" width="9" height="149.4" fill="#f38e1f"/>
<path d="M625.3,864 L637.9,865 L646.9,865 L659.5999999999999,864 V938.7 H625.3 Z" fill="#10897b"/>
<rect x="355.9" y="951.3" width="309.5" height="42.2" fill="#414042"/>
<text x="362.6" y="978.5" font-size="23.5" fill="#f6f4f0" font-weight="bold" text-anchor="start" textLength="26.5" lengthAdjust="spacingAndGlyphs" stroke="#f6f4f0" stroke-width="0.6">19%</text>
<text x="406.4" y="978.5" font-size="23.5" fill="#f6f4f0" font-weight="bold" text-anchor="start" textLength="29.2" lengthAdjust="spacingAndGlyphs" stroke="#f6f4f0" stroke-width="0.6">25%</text>
<text x="449.6" y="978.5" font-size="23.5" fill="#f6f4f0" font-weight="bold" text-anchor="start" textLength="24.2" lengthAdjust="spacingAndGlyphs" stroke="#f6f4f0" stroke-width="0.6">17%</text>
<text x="496" y="978.5" font-size="23.5" fill="#f6f4f0" font-weight="bold" text-anchor="start" textLength="28.3" lengthAdjust="spacingAndGlyphs" stroke="#f6f4f0" stroke-width="0.6">24%</text>
<text x="540.9" y="978.5" font-size="23.5" fill="#f6f4f0" font-weight="bold" text-anchor="start" textLength="28.2" lengthAdjust="spacingAndGlyphs" stroke="#f6f4f0" stroke-width="0.6">29%</text>
<text x="588.4" y="978.5" font-size="23.5" fill="#f6f4f0" font-weight="bold" text-anchor="start" textLength="24.5" lengthAdjust="spacingAndGlyphs" stroke="#f6f4f0" stroke-width="0.6">17%</text>
<text x="630.5" y="978.5" font-size="23.5" fill="#f6f4f0" font-weight="bold" text-anchor="start" textLength="28.2" lengthAdjust="spacingAndGlyphs" stroke="#f6f4f0" stroke-width="0.6">30%</text>
<rect x="693.5" y="808" width="318" height="177.5" fill="#e5e1db"/>
<rect x="693.5" y="806.8" width="318" height="3.4" fill="#f9f8f6"/>
<rect x="693.5" y="836.1999999999999" width="318" height="3.4" fill="#f9f8f6"/>
<rect x="693.5" y="865.8" width="318" height="3.4" fill="#f9f8f6"/>
<rect x="693.5" y="895.3" width="318" height="3.4" fill="#f9f8f6"/>
<rect x="693.5" y="925.3" width="318" height="3.4" fill="#f9f8f6"/>
<rect x="693.5" y="954.6999999999999" width="318" height="3.4" fill="#f9f8f6"/>
<rect x="723.0" y="808" width="3.4" height="177.5" fill="#f9f8f6"/>
<rect x="752.6999999999999" y="808" width="3.4" height="177.5" fill="#f9f8f6"/>
<rect x="781.9" y="808" width="3.4" height="177.5" fill="#f9f8f6"/>
<rect x="811.3" y="808" width="3.4" height="177.5" fill="#f9f8f6"/>
<rect x="841.3" y="808" width="3.4" height="177.5" fill="#f9f8f6"/>
<rect x="871.3" y="808" width="3.4" height="177.5" fill="#f9f8f6"/>
<rect x="901.5999999999999" y="808" width="3.4" height="177.5" fill="#f9f8f6"/>
<rect x="931.0999999999999" y="808" width="3.4" height="177.5" fill="#f9f8f6"/>
<rect x="961.0999999999999" y="808" width="3.4" height="177.5" fill="#f9f8f6"/>
<rect x="990.5" y="808" width="3.4" height="177.5" fill="#f9f8f6"/>
<polyline points="693.5,929.1 726,958.5 754,896 783.4,925.7 814.5,867.6 842.9,896.3 871.2,896.3 902.7,835.5 932,926.7 962.1,926.7 992.2,956.4" fill="none" stroke="#e03a50" stroke-width="2.2" stroke-linejoin="round"/>
<polyline points="693.5,973 724.3,866.6 754.7,957.5 782.4,897 842.2,926.7 872.9,836.5 903.3,925.7 962.8,867.3 995,896.3" fill="none" stroke="#3eb2d2" stroke-width="2.4" stroke-linejoin="round"/>
<circle cx="726" cy="958.5" r="3.5" fill="#e03a57"/>
<circle cx="754" cy="896" r="3.5" fill="#e03a57"/>
<circle cx="814.5" cy="867.6" r="3.5" fill="#e03a57"/>
<circle cx="842.9" cy="896.3" r="3.5" fill="#e03a57"/>
<circle cx="871.2" cy="896.3" r="3.5" fill="#e03a57"/>
<circle cx="902.7" cy="835.5" r="3.5" fill="#e03a57"/>
<circle cx="932" cy="926.7" r="3.5" fill="#e03a57"/>
<circle cx="962.1" cy="926.7" r="3.5" fill="#e03a57"/>
<circle cx="724.3" cy="866.6" r="3.5" fill="#3eb2d2"/>
<circle cx="754.7" cy="957.5" r="3.5" fill="#3eb2d2"/>
<circle cx="782.4" cy="897" r="3.5" fill="#3eb2d2"/>
<circle cx="842.2" cy="926.7" r="3.5" fill="#3eb2d2"/>
<circle cx="872.9" cy="836.5" r="3.5" fill="#3eb2d2"/>
<circle cx="903.3" cy="925.7" r="3.5" fill="#3eb2d2"/>
<circle cx="962.8" cy="867.3" r="3.5" fill="#3eb2d2"/>
<rect x="684.5" y="788" width="9" height="205.8" fill="#3c3b3c"/><rect x="684.5" y="985.2" width="327" height="8.6" fill="#3c3b3c"/>
<rect x="756.4" y="985.2" width="252.4" height="23.1" fill="#8a8a8a" fill-opacity="0.82"/>
<text x="765" y="1000.7" font-size="13.5" fill="#f4f4f4" font-weight="normal" text-anchor="start" textLength="231.7" lengthAdjust="spacingAndGlyphs" >ID:6608733 NO:20250808101941352105</text>
</svg>
</body></html>
